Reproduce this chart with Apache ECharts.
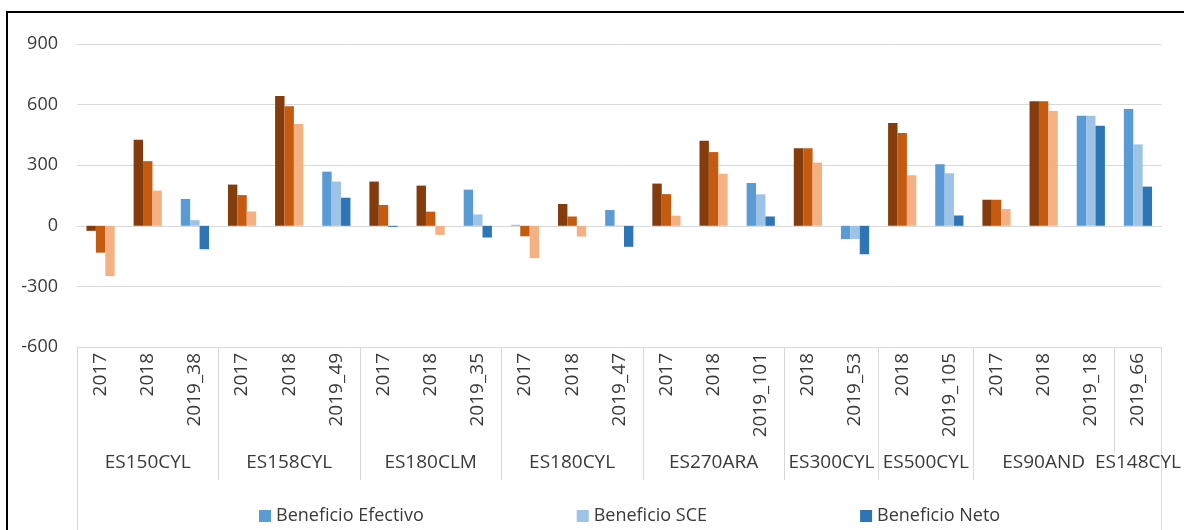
<!DOCTYPE html>
<html>
<head>
<meta charset="utf-8">
<script src="https://cdn.jsdelivr.net/npm/echarts@6/dist/echarts.min.js"></script>
<style>
  html, body { margin: 0; padding: 0; background: #fff; overflow: hidden; }
  #frame { position: absolute; left: 6px; top: 11px; width: 1200px; height: 600px; border: 2px solid #000; box-sizing: border-box; }
  #chart { position: absolute; left: 0; top: 0; width: 1184px; height: 530px; }
</style>
</head>
<body>
<div id="frame"></div>
<div id="chart"></div>
<script>
// ---- data ----
const subCategories = ['2017','2018','2019_38','2017','2018','2019_49','2017','2018','2019_35','2017','2018','2019_47','2017','2018','2019_101','2018','2019_53','2018','2019_105','2017','2018','2019_18','2019_66'];
const groupNames = ['ES150CYL','ES158CYL','ES180CLM','ES180CYL','ES270ARA','ES300CYL','ES500CYL','ES90AND','ES148CYL'];
const groupSizes = [3,3,3,3,3,2,2,3,1];
const seriesNames = ['Beneficio Efectivo','Beneficio SCE','Beneficio Neto'];
const efectivo = [-25, 426, 133, 204, 643, 268, 219, 199, 179, 5, 108, 78, 209, 421, 212, 384, -66, 509, 305, 129, 616, 545, 578];
const sce      = [-133, 320, 28, 152, 592, 219, 103, 70, 56, -52, 46, 2, 157, 365, 156, 384, -66, 459, 260, 129, 616, 545, 403];
const neto     = [-249, 174, -116, 71, 504, 139, -5, -45, -58, -160, -53, -104, 50, 258, 46, 313, -141, 250, 51, 83, 568, 495, 194];
const yTicks = [-600, -300, 0, 300, 600, 900];

// ---- styles ----
const FONT = '"Open Sans", sans-serif';
const TXT = '#3A3A3A';
const GRIDC = '#D9D9D9';
const blues = ['#5B9BD5', '#9DC3E6', '#2E75B6'];
const browns = ['#843C0C', '#C55A11', '#F4B183'];
const overrides = { '2-6': '#2E75B6', '0-9': '#9DB4D0' };

// group slot axis (half-category resolution)
const nSub = subCategories.length;
const slots = new Array(2 * nSub + 1).fill('');
const boundaries = [0];
let acc = 0;
groupSizes.forEach((s, g) => {
  slots[2 * acc + s] = groupNames[g];
  acc += s;
  boundaries.push(2 * acc);
});
const lastIdx = 2 * nSub;
const innerLong = boundaries.filter(b => b !== 0 && b !== lastIdx && b !== lastIdx - 2);
const innerShort = boundaries.filter(b => b === lastIdx - 2);
const outer = [0, lastIdx];

function mk(values, k) {
  return values.map((v, i) => {
    const key = k + '-' + i;
    const c = overrides[key] || (subCategories[i].startsWith('2019') ? blues[k] : browns[k]);
    return { value: v, itemStyle: { color: c } };
  });
}

const chart = echarts.init(document.getElementById('chart'), null, { renderer: 'canvas' });
const slotAxisBase = {
  type: 'category', data: slots, boundaryGap: false, position: 'bottom',
  axisLine: { show: false }, splitLine: { show: false }
};
chart.setOption({
  animation: false,
  backgroundColor: 'transparent',
  textStyle: { fontFamily: FONT },
  grid: { left: 77, right: 22, top: 44, bottom: 183, containLabel: false },
  legend: {
    data: seriesNames, left: 254, top: 502, itemWidth: 12, itemHeight: 12, itemGap: 153,
    icon: 'rect', textStyle: { fontSize: 18, color: TXT, fontFamily: FONT }
  },
  xAxis: [
    {
      type: 'category', data: subCategories, position: 'bottom',
      axisLine: { show: true, lineStyle: { color: GRIDC, width: 1 } },
      axisTick: { show: false },
      axisLabel: { rotate: 90, interval: 0, margin: 6, fontSize: 19, color: TXT, fontFamily: FONT }
    },
    Object.assign({}, slotAxisBase, {
      axisTick: { show: true, interval: (i) => innerLong.includes(i), length: 133, lineStyle: { color: GRIDC } },
      axisLabel: { interval: 0, margin: 106, fontSize: 19, color: TXT, fontFamily: FONT }
    }),
    Object.assign({}, slotAxisBase, {
      axisTick: { show: true, interval: (i) => outer.includes(i), length: 190, lineStyle: { color: GRIDC } },
      axisLabel: { show: false }
    }),
    Object.assign({}, slotAxisBase, {
      axisTick: { show: true, interval: (i) => innerShort.includes(i), length: 106, lineStyle: { color: GRIDC } },
      axisLabel: { show: false }
    })
  ],
  yAxis: {
    type: 'value', min: yTicks[0], max: yTicks[yTicks.length - 1], interval: 300,
    axisLine: { show: false }, axisTick: { show: false },
    splitLine: { lineStyle: { color: GRIDC, width: 1 } },
    axisLabel: { fontSize: 18, color: TXT, margin: 19, fontFamily: FONT }
  },
  series: [
    { name: seriesNames[0], type: 'bar', xAxisIndex: 0, data: mk(efectivo, 0), barWidth: 9.4, barGap: '0%', itemStyle: { color: blues[0] } },
    { name: seriesNames[1], type: 'bar', xAxisIndex: 0, data: mk(sce, 1), barWidth: 9.4, barGap: '0%', itemStyle: { color: blues[1] } },
    { name: seriesNames[2], type: 'bar', xAxisIndex: 0, data: mk(neto, 2), barWidth: 9.4, barGap: '0%', itemStyle: { color: blues[2] } }
  ]
});
</script>
</body>
</html>
